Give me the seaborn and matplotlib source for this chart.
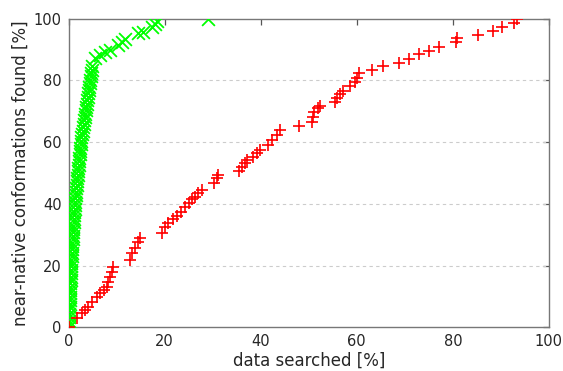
import matplotlib
matplotlib.use("Agg")
import matplotlib.pyplot as plt
import seaborn as sns
import pandas as pd

# Ranked search (green): fraction of near-native conformations found vs data searched
green_x = [0.0, 0.1, 0.1, 0.15, 0.2, 0.2, 0.25, 0.25, 0.3, 0.3, 0.35, 0.35, 0.4, 0.4,
           0.45, 0.45, 0.5, 0.5, 0.55, 0.6, 0.6, 0.65, 0.7, 0.7, 0.75, 0.8, 0.85, 0.9,
           0.95, 1.0, 1.0, 1.05, 1.1, 1.15, 1.2, 1.25, 1.3, 1.4, 1.45, 1.5, 1.6, 1.65,
           1.7, 1.8, 1.85, 1.9, 2.0, 2.05, 2.1, 2.2, 2.25, 2.3, 2.4, 2.45, 2.5, 2.6,
           2.7, 2.8, 3.0, 3.1, 3.2, 3.3, 3.4, 3.5, 3.6, 3.7, 3.8, 3.9, 4.0, 4.1, 4.2,
           4.3, 4.4, 4.5, 4.6, 4.7, 4.8, 4.9,
           5.5, 6.6, 7.6, 8.6, 10.4, 11.1, 11.8, 14.5, 15.6, 17.3, 18.0, 18.4, 29.1]
green_y = [0.0, 1.0, 2.2, 3.3, 4.4, 5.5, 6.6, 7.7, 8.8, 9.9, 11.0, 12.1, 13.2, 14.3,
           15.4, 16.5, 17.6, 18.7, 19.8, 20.9, 22.0, 23.1, 24.2, 25.3, 26.4, 27.5, 28.6,
           29.7, 30.8, 31.9, 33.0, 34.1, 35.2, 36.3, 37.4, 38.5, 39.6, 40.7, 41.8, 42.9,
           44.0, 45.1, 46.2, 47.3, 48.4, 49.5, 50.5, 51.6, 52.7, 53.8, 54.9, 56.0, 57.1,
           58.2, 59.3, 60.4, 61.5, 62.6, 63.7, 64.8, 65.9, 67.0, 68.1, 69.2, 70.3, 71.4,
           72.5, 73.6, 74.7, 75.8, 76.9, 78.0, 79.1, 80.2, 81.3, 82.4, 83.5, 84.6,
           87.1, 88.2, 89.2, 89.8, 91.4, 92.5, 93.3, 95.2, 95.7, 97.3, 98.2, 99.3, 100.0]

# Baseline search (red)
red_x = [0.2, 1.7, 2.75, 3.4, 4.1, 4.8, 5.9, 6.6, 7.3, 8.0, 8.3, 8.6, 9.0, 9.3,
         12.8, 13.2, 13.9, 14.5, 14.9,
         19.4, 20.1, 20.8, 21.8, 22.5, 23.4, 24.3, 25.0, 25.7, 26.4, 27.0, 27.8,
         30.2, 30.9, 31.2,
         35.4, 36.1, 36.8, 37.1, 38.5, 39.2, 39.9, 41.6, 42.3, 43.4, 44.0,
         47.9, 50.7, 50.9, 51.1, 52.0, 52.4, 55.5, 55.9, 56.6, 57.1, 58.6, 59.7,
         60.0, 60.5, 63.2, 65.5, 68.7, 70.8, 72.9, 75.0, 77.2, 80.7, 80.9, 85.2,
         88.3, 90.2, 92.7, 93.4]
red_y = [0.3, 3.0, 4.6, 5.7, 6.7, 8.3, 10.0, 11.0, 12.1, 13.0, 14.8, 16.4, 18.0, 19.7,
         21.8, 24.0, 25.6, 27.8, 28.9,
         30.7, 32.6, 33.7, 35.0, 36.1, 37.5, 39.1, 40.2, 41.5, 42.3, 43.4, 44.5,
         46.7, 48.3, 49.4,
         50.5, 51.8, 53.1, 54.2, 55.3, 56.4, 57.4, 59.1, 60.7, 62.3, 63.9,
         65.2, 66.6, 68.2, 69.8, 70.9, 71.7, 73.1, 74.2, 75.6, 76.6, 78.2, 79.5,
         80.6, 82.3, 83.3, 84.6, 85.7, 87.0, 88.4, 89.6, 90.7, 92.5, 93.6, 94.7,
         96.0, 97.3, 98.6, 100.0]

x_ticks = [0, 20, 40, 60, 80, 100]
y_ticks = [0, 20, 40, 60, 80, 100]

sns.set_style("white")
plt.rcParams["font.family"] = ["DejaVu Sans"]

fig = plt.figure(figsize=(5.63, 3.71), dpi=100)
ax = fig.add_axes([0.1217, 0.1173, 0.8533, 0.8327])

green_df = pd.DataFrame({"searched": green_x, "found": green_y})
red_df = pd.DataFrame({"searched": red_x, "found": red_y})

sns.scatterplot(data=green_df, x="searched", y="found", marker="x", s=85,
                color="#00ff00", linewidth=1.3, ax=ax, zorder=3)
sns.scatterplot(data=red_df, x="searched", y="found", marker="+", s=70,
                color="#ff0000", linewidth=1.2, ax=ax, zorder=4)

ax.set_xlim(0, 100)
ax.set_ylim(0, 100)
ax.set_xticks(x_ticks)
ax.set_yticks(y_ticks)
ax.set_xticklabels([str(t) for t in x_ticks])
ax.set_yticklabels([str(t) for t in y_ticks])

for t in [20, 40, 60, 80]:
    ax.axhline(t, color="#cccccc", lw=0.8, ls=(0, (3, 3)), zorder=1)

for sp in ax.spines.values():
    sp.set_visible(True)
    sp.set_color("#777777")
    sp.set_linewidth(1.0)

ax.tick_params(axis="both", direction="in", length=4, width=0.9, color="#555555",
               top=True, right=True, labelsize=10.5, pad=5)
ax.set_xlabel("data searched [%]", fontsize=12, labelpad=2)
ax.set_ylabel("near-native conformations found [%]", fontsize=12, labelpad=3)

fig.savefig("out.png", dpi=100)
